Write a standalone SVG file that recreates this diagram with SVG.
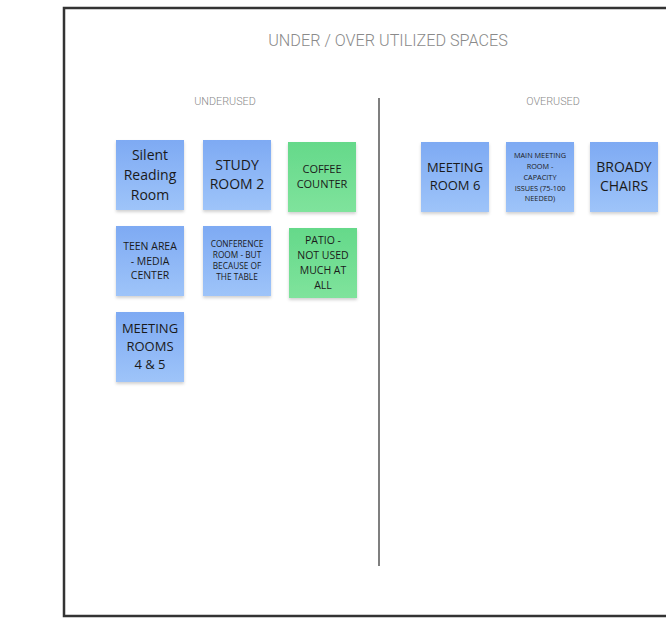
<svg xmlns="http://www.w3.org/2000/svg" width="666" height="625" viewBox="0 0 666 625">
<defs>
<linearGradient id="blue" x1="0" y1="0" x2="0" y2="1"><stop offset="0" stop-color="#7eaaf3"/><stop offset="1" stop-color="#9ec4f9"/></linearGradient>
<linearGradient id="green" x1="0" y1="0" x2="0" y2="1"><stop offset="0" stop-color="#65d98a"/><stop offset="1" stop-color="#7fe39c"/></linearGradient>
<filter id="sh" x="-20%" y="-20%" width="140%" height="150%"><feDropShadow dx="0" dy="2" stdDeviation="1.5" flood-color="#000" flood-opacity="0.18"/></filter>
</defs>
<style>
.t{font-family:Roboto,"Liberation Sans",sans-serif;fill:#8a8a8a;text-anchor:middle;font-weight:300}
.s{font-family:"Open Sans","Noto Sans",sans-serif;fill:#1a1a1a;text-anchor:middle}
.b{fill:url(#blue);filter:url(#sh)}
.g{fill:url(#green);filter:url(#sh)}
</style>
<rect width="666" height="625" fill="#fff"/>
<rect x="64" y="8" width="620" height="608" fill="none" stroke="#333" stroke-width="2.5"/>
<text class="t" x="388" y="46" font-size="16.2">UNDER / OVER UTILIZED SPACES</text>
<text class="t" x="225" y="105" font-size="10.8">UNDERUSED</text>
<text class="t" x="553" y="105" font-size="10.8">OVERUSED</text>
<g id="connectors"><line x1="379" y1="98" x2="379" y2="566" stroke="#555" stroke-width="1.5"/></g>
<g id="silent"><rect class="b" x="116" y="140" width="68" height="70"/><text class="s" font-size="14"><tspan x="150" y="160">Silent</tspan><tspan x="150" y="180">Reading</tspan><tspan x="150" y="200">Room</tspan></text></g>
<g id="study2"><rect class="b" x="203" y="140" width="68" height="70"/><text class="s" font-size="14"><tspan x="237" y="170">STUDY</tspan><tspan x="237" y="189">ROOM 2</tspan></text></g>
<g id="coffee"><rect class="g" x="288" y="142" width="68" height="70"/><text class="s" font-size="11"><tspan x="322" y="173">COFFEE</tspan><tspan x="322" y="188">COUNTER</tspan></text></g>
<g id="teen"><rect class="b" x="116" y="226" width="68" height="70"/><text class="s" font-size="10.5"><tspan x="150" y="250">TEEN AREA</tspan><tspan x="150" y="265">- MEDIA</tspan><tspan x="150" y="279">CENTER</tspan></text></g>
<g id="conference"><rect class="b" x="203" y="226" width="68" height="70"/><text class="s" font-size="8.3"><tspan x="237" y="247">CONFERENCE</tspan><tspan x="237" y="258">ROOM - BUT</tspan><tspan x="237" y="269">BECAUSE OF</tspan><tspan x="237" y="280">THE TABLE</tspan></text></g>
<g id="patio"><rect class="g" x="289" y="228" width="68" height="70"/><text class="s" font-size="10.5"><tspan x="323" y="244">PATIO -</tspan><tspan x="323" y="259">NOT USED</tspan><tspan x="323" y="274">MUCH AT</tspan><tspan x="323" y="289">ALL</tspan></text></g>
<g id="meeting45"><rect class="b" x="116" y="312" width="68" height="70"/><text class="s" font-size="13"><tspan x="150" y="333">MEETING</tspan><tspan x="150" y="351">ROOMS</tspan><tspan x="150" y="369">4 &amp; 5</tspan></text></g>
<g id="meeting6"><rect class="b" x="421" y="142" width="68" height="70"/><text class="s" font-size="13"><tspan x="455" y="172">MEETING</tspan><tspan x="455" y="190">ROOM 6</tspan></text></g>
<g id="mainmeeting"><rect class="b" x="506" y="142" width="68" height="70"/><text class="s" font-size="7.3"><tspan x="540" y="158">MAIN MEETING</tspan><tspan x="540" y="169">ROOM -</tspan><tspan x="540" y="180">CAPACITY</tspan><tspan x="540" y="191">ISSUES (75-100</tspan><tspan x="540" y="201">NEEDED)</tspan></text></g>
<g id="broady"><rect class="b" x="590" y="142" width="68" height="70"/><text class="s" font-size="14"><tspan x="624" y="172">BROADY</tspan><tspan x="624" y="191">CHAIRS</tspan></text></g>
</svg>
